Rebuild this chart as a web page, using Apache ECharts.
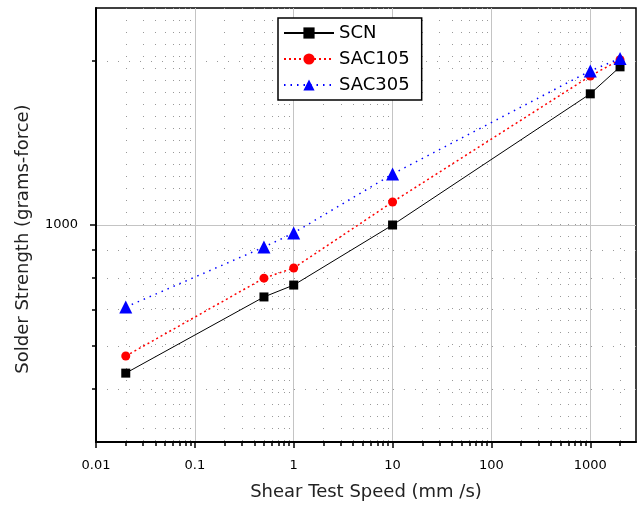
<!DOCTYPE html>
<html>
<head>
<meta charset="utf-8">
<script src="https://cdn.jsdelivr.net/npm/echarts@6/dist/echarts.min.js"></script>
<style>html,body{margin:0;padding:0;background:#fff}#c{width:640px;height:506px}</style>
</head>
<body>
<div id="c"></div>
<script>
const speeds = [0.02, 0.5, 1, 10, 1000, 2000];
const scn    = [535, 738, 776, 1000, 1740, 1950];
const sac105 = [575, 799, 834, 1102, 1876, 2010];
const sac305 = [707, 911, 967, 1240, 1917, 2020];

const xMajorTicks = [0.01, 0.1, 1, 10, 100, 1000];
const xMinorTicks = [0.02,0.03,0.04,0.05,0.06,0.07,0.08,0.09,
                     0.2,0.3,0.4,0.5,0.6,0.7,0.8,0.9,
                     2,3,4,5,6,7,8,9,
                     20,30,40,50,60,70,80,90,
                     200,300,400,500,600,700,800,900,
                     2000];
const yMajorTicks = [1000];
const yMinorTicks = [500, 600, 700, 800, 900, 2000];

const X_MIN = 0.01, X_MAX = 2900, Y_MIN = 400, Y_MAX = 2500;

const chart = echarts.init(document.getElementById('c'), null, {renderer: 'canvas'});
const font = '"DejaVu Sans", Arial, sans-serif';
const pair = (xs, ys) => xs.map((x, i) => [x, ys[i]]);
const fmt = v => String(+(+v).toPrecision(6));

chart.setOption({
  animation: false,
  backgroundColor: '#fff',
  grid: {left: 96, right: 4, top: 8, bottom: 63, show: true, borderColor: '#000', borderWidth: 1.5, backgroundColor: 'transparent'},
  legend: {
    data: ['SCN', 'SAC105', 'SAC305'],
    orient: 'vertical', left: 278, top: 18,
    itemWidth: 50, itemHeight: 14, itemGap: 6,
    padding: [5, 12, 5, 5],
    borderColor: '#000', borderWidth: 1.5, backgroundColor: '#fff',
    textStyle: {fontSize: 18, fontFamily: font, color: '#000', lineHeight: 20}
  },
  xAxis: [
    {
      type: 'log', logBase: 10, min: X_MIN, max: X_MAX, position: 'bottom',
      name: 'Shear Test Speed (mm /s)', nameLocation: 'middle', nameGap: 41,
      nameTextStyle: {fontSize: 18, fontFamily: font, color: '#222'},
      axisLine: {onZero: false, lineStyle: {color: '#000', width: 2}},
      axisTick: {customValues: xMajorTicks, length: 6, lineStyle: {color: '#000', width: 1.5}},
      axisLabel: {customValues: xMajorTicks, formatter: fmt, fontSize: 13, fontFamily: font, color: '#000', margin: 17},
      splitLine: {show: true, lineStyle: {color: '#c4c4c4', width: 1}},
      z: 3
    },
    {
      type: 'log', logBase: 10, min: X_MIN, max: X_MAX, position: 'bottom',
      axisLine: {show: false, onZero: false},
      axisTick: {customValues: xMinorTicks, length: 4, lineStyle: {color: '#000', width: 1.5}},
      axisLabel: {show: false},
      splitLine: {show: true, lineStyle: {color: '#999', width: 1, type: [1, 11]}},
      z: 2
    }
  ],
  yAxis: [
    {
      type: 'log', logBase: 10, min: Y_MIN, max: Y_MAX, position: 'left',
      name: 'Solder Strength (grams-force)', nameLocation: 'middle', nameGap: 64,
      nameTextStyle: {fontSize: 18, fontFamily: font, color: '#222', padding: [0, 28, 0, 0]},
      axisLine: {onZero: false, lineStyle: {color: '#000', width: 2}},
      axisTick: {customValues: yMajorTicks, length: 6, lineStyle: {color: '#000', width: 1.5}},
      axisLabel: {customValues: yMajorTicks, formatter: fmt, fontSize: 13, fontFamily: font, color: '#000', margin: 18},
      splitLine: {show: true, lineStyle: {color: '#c4c4c4', width: 1}},
      z: 3
    },
    {
      type: 'log', logBase: 10, min: Y_MIN, max: Y_MAX, position: 'left',
      axisLine: {show: false, onZero: false},
      axisTick: {customValues: yMinorTicks, length: 4, lineStyle: {color: '#000', width: 1.5}},
      axisLabel: {show: false},
      splitLine: {show: true, lineStyle: {color: '#999', width: 1, type: [1, 10]}},
      z: 2
    }
  ],
  series: [
    {
      name: 'SCN', type: 'line', xAxisIndex: 0, yAxisIndex: 0,
      data: pair(speeds, scn),
      symbol: 'rect', symbolSize: 9,
      lineStyle: {color: '#000', width: 1},
      itemStyle: {color: '#000'}, z: 5
    },
    {
      name: 'SAC105', type: 'line', xAxisIndex: 0, yAxisIndex: 0,
      data: pair(speeds, sac105),
      symbol: 'circle', symbolSize: 9,
      lineStyle: {color: '#ff0000', width: 1.5, type: [2, 3]},
      itemStyle: {color: '#ff0000'}, z: 6
    },
    {
      name: 'SAC305', type: 'line', xAxisIndex: 0, yAxisIndex: 0,
      data: pair(speeds, sac305),
      symbol: 'triangle', symbolSize: 13,
      lineStyle: {color: '#0000ff', width: 1.5, type: [1.5, 5]},
      itemStyle: {color: '#0000ff'}, z: 7
    }
  ]
});
</script>
</body>
</html>
